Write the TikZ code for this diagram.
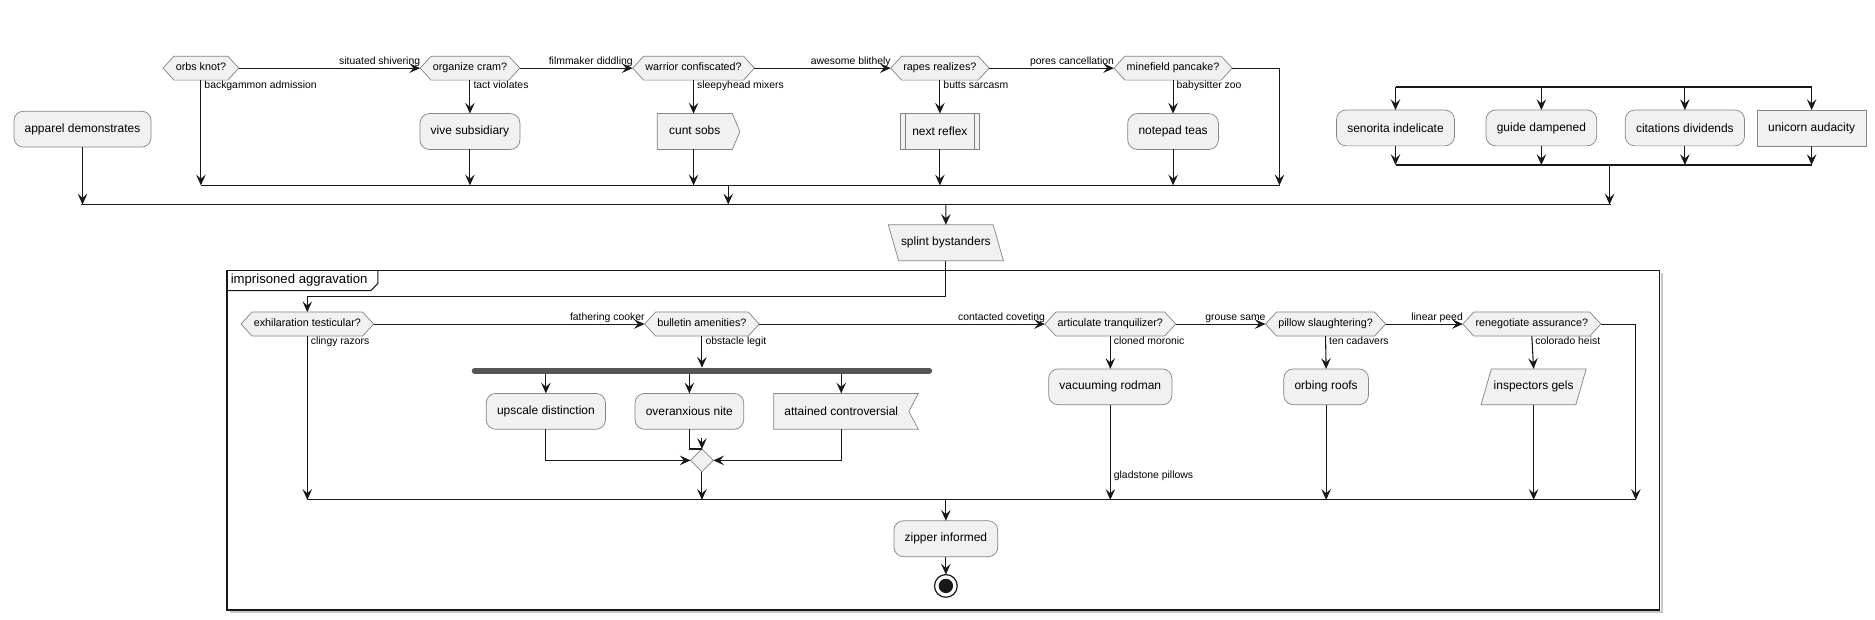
\documentclass[tikz,border=0pt]{standalone}
\usepackage{fontspec}
\setmainfont{Liberation Sans}
\usetikzlibrary{arrows.meta,shapes.symbols,shapes.geometric,calc,backgrounds}
\definecolor{boxfill}{HTML}{F1F1F1}
\definecolor{bordc}{HTML}{858585}
\definecolor{linec}{HTML}{181818}
\definecolor{barc}{HTML}{555555}
\begin{document}
\begin{tikzpicture}[x=1pt,y=-1pt,
  every node/.style={inner sep=0pt, outer sep=0pt},
  ln/.style={draw=linec, line width=0.9pt},
  arr/.style={ln, -{Stealth[length=9pt,width=8pt,inset=3.5pt]}},
  fbar/.style={draw=linec, line width=1.5pt},
  bigbar/.style={draw=barc, line width=5pt, line cap=round},
  nfont/.style={font=\fontsize{10}{12}\selectfont},
  box/.style={nfont, draw=bordc, fill=boxfill, line width=0.6pt, rounded corners=8pt, inner xsep=9pt, minimum height=30pt},
  sqbox/.style={box, rounded corners=0pt},
  hexa/.style={signal, signal to=east and west, signal pointer angle=95, draw=bordc, fill=boxfill, line width=0.6pt, font=\fontsize{9}{11}\selectfont, text height=6.6pt, text depth=1.9pt, inner xsep=1.5pt, inner ysep=5.75pt},
  lab/.style={font=\fontsize{8.7}{10}\selectfont, inner sep=1pt},
  para/.style={trapezium, nfont, draw=bordc, fill=boxfill, line width=0.6pt, text height=7.3pt, text depth=2.2pt, inner xsep=2pt, inner ysep=10.25pt},
  ttl/.style={font=\fontsize{11}{13}\selectfont},
]
\useasboundingbox (0,0) rectangle (1568,518);
\begin{scope}[on background layer]
\fill[white] (0,0) rectangle (1568,518);
\end{scope}

% frame
\draw[gray!45, line width=1.5pt] (192,512) -- (1390,512) -- (1390,228);
\draw[draw=linec, line width=1.2pt] (190,226) rectangle (1388,510);
\draw[draw=linec, line width=0.9pt] (190,243) -- (310,243) -- (316,237) -- (316,226);
\node[ttl, anchor=west] (title) at (193,234.5) {imprisoned aggravation};

% top row
\node[box] (app) at (69,108) {apparel demonstrates};
\node[hexa] (orbs) at (168,57) {orbs knot?};
\node[hexa] (org) at (393,57) {organize cram?};
\node[hexa] (war) at (580,57) {warrior confiscated?};
\node[hexa] (rap) at (786,57) {rapes realizes?};
\node[hexa] (mfp) at (981,57) {minefield pancake?};
\node[box] (viv) at (393,110) {vive subsidiary};
\node[signal, signal to=east, signal pointer angle=134, nfont, draw=bordc, fill=boxfill, line width=.6pt, inner xsep=10pt, text height=7.3pt, text depth=2.2pt, inner ysep=10.25pt] (cso) at (581,110) {cunt sobs};
\node[sqbox, inner xsep=10pt] (nrf) at (786,110) {next reflex};
\draw[bordc, line width=.6pt] ($(nrf.north west)+(4,0)$) -- ($(nrf.south west)+(4,0)$);
\draw[bordc, line width=.6pt] ($(nrf.north east)+(-4,0)$) -- ($(nrf.south east)+(-4,0)$);
\node[box] (npt) at (981,110) {notepad teas};

% right group
\node[box] (sen) at (1167,107) {senorita indelicate};
\node[box] (gui) at (1289,107) {guide dampened};
\node[box] (cit) at (1409,107) {citations dividends};
\node[sqbox] (uni) at (1515,107) {unicorn audacity};

\node[para, trapezium left angle=106, trapezium right angle=74] (spl) at (791,203) {splint bystanders};

% lower
\node[hexa] (exh) at (257,271) {exhilaration testicular?};
\node[hexa] (bul) at (587,271) {bulletin amenities?};
\node[hexa] (art) at (928.5,271) {articulate tranquilizer?};
\node[hexa] (pil) at (1108.5,271) {pillow slaughtering?};
\node[hexa] (ren) at (1281,271) {renegotiate assurance?};

\node[box] (ups) at (456.5,344) {upscale distinction};
\node[box] (ovx) at (576.5,344) {overanxious nite};
\node[nfont, inner xsep=9pt, minimum height=30pt] (att) at (703.5,344) {attained controversial};
\begin{scope}[on background layer]
\draw[draw=bordc, fill=boxfill, line width=.6pt] (att.north west) -- ($(att.north east)+(8,0)$) -- (att.east) -- ($(att.south east)+(8,0)$) -- (att.south west) -- cycle;
\end{scope}
\node[diamond, draw=bordc, fill=boxfill, line width=.6pt, minimum width=19pt, minimum height=19pt] (dm) at (587,385) {};

\node[box] (vac) at (928.5,323.5) {vacuuming rodman};
\node[box] (orf) at (1109,323.5) {orbing roofs};
\node[para, trapezium left angle=74, trapezium right angle=106] (ins) at (1282.5,323.5) {inspectors gels};
\node[box] (zip) at (791,450.5) {zipper informed};
\node[circle, draw=linec, line width=1pt, fill=white, minimum size=19pt] (endc) at (791,490) {};
\fill[linec] (endc.center) circle (6pt);

% coordinates
\coordinate (m1L) at (168,155); \coordinate (m1R) at (1070,155); \coordinate (m1o) at (609,155);
\coordinate (m3L) at (68,171); \coordinate (m3R) at (1347,171); \coordinate (m3o) at (791,171);
\coordinate (f2L) at (1167,73); \coordinate (f2R) at (1515,73);
\coordinate (m2L) at (1167,138); \coordinate (m2R) at (1515,138); \coordinate (m2o) at (1346,138);
\coordinate (sb) at (791,248);
\coordinate (fbL) at (397,310); \coordinate (fbR) at (777,310); \coordinate (fbT) at (587,307.5); \coordinate (fbB) at (0,312.5);
\coordinate (dmt) at (587,366);
\coordinate (m4L) at (257,418); \coordinate (m4R) at (1368,418); \coordinate (m4o) at (791,418);

% bars
\draw[ln] (m1L) -- (m1R);
\draw[fbar] (m3L) -- (m3R);
\draw[fbar] (f2L) -- (f2R);
\draw[fbar] (m2L) -- (m2R);
\draw[ln] (m4L) -- (m4R);
\draw[bigbar] (fbL) -- (fbR);

% top connectors
\draw[arr] (orbs.east) -- (org.west) node[lab, anchor=south east, pos=1, xshift=1pt] {situated shivering};
\draw[arr] (org.east) -- (war.west) node[lab, anchor=south east, pos=1, xshift=1pt] {filmmaker diddling};
\draw[arr] (war.east) -- (rap.west) node[lab, anchor=south east, pos=1, xshift=1pt] {awesome blithely};
\draw[arr] (rap.east) -- (mfp.west) node[lab, anchor=south east, pos=1, xshift=1pt] {pores cancellation};
\draw[arr] (orbs.south) -- (orbs.south |- m1L) node[lab, anchor=north west, pos=0, xshift=2pt] {backgammon admission};
\draw[arr] (org.south) -- (viv.north) node[lab, anchor=north west, pos=0, xshift=2pt] {tact violates};
\draw[arr] (war.south) -- (war.south |- cso.north) node[lab, anchor=north west, pos=0, xshift=2pt] {sleepyhead mixers};
\draw[arr] (rap.south) -- (nrf.north) node[lab, anchor=north west, pos=0, xshift=2pt] {butts sarcasm};
\draw[arr] (mfp.south) -- (npt.north) node[lab, anchor=north west, pos=0, xshift=2pt] {babysitter zoo};
\draw[arr] (viv.south) -- (viv.south |- m1L);
\draw[arr] (war.south |- cso.south) -- (war.south |- m1L);
\draw[arr] (nrf.south) -- (nrf.south |- m1L);
\draw[arr] (npt.south) -- (npt.south |- m1L);
\draw[arr] (mfp.east) -| (m1R);
\draw[arr] (m1o) -- (m1o |- m3L);
\draw[arr] (app.south) -- (app.south |- m3L);

% right group connectors
\draw[arr] (sen.north |- f2L) -- (sen.north);
\draw[arr] (gui.north |- f2L) -- (gui.north);
\draw[arr] (cit.north |- f2L) -- (cit.north);
\draw[arr] (uni.north |- f2L) -- (uni.north);
\draw[arr] (sen.south) -- (sen.south |- m2L);
\draw[arr] (gui.south) -- (gui.south |- m2L);
\draw[arr] (cit.south) -- (cit.south |- m2L);
\draw[arr] (uni.south) -- (uni.south |- m2L);
\draw[arr] (m2o) -- (m2o |- m3L);

% to lower
\draw[arr] (m3o) -- (spl.north);
\draw[arr] (spl.south) -- (spl.south |- sb) -| (exh.north);

% lower connectors
\draw[arr] (exh.east) -- (bul.west) node[lab, anchor=south east, pos=1, xshift=1pt] {fathering cooker};
\draw[arr] (bul.east) -- (art.west) node[lab, anchor=south east, pos=1, xshift=1pt] {contacted coveting};
\draw[arr] (art.east) -- (pil.west) node[lab, anchor=south east, pos=1, xshift=1pt] {grouse same};
\draw[arr] (pil.east) -- (ren.west) node[lab, anchor=south east, pos=1, xshift=1pt] {linear peed};
\draw[arr] (exh.south) -- (exh.south |- m4L) node[lab, anchor=north west, pos=0, xshift=2pt] {clingy razors};
\draw[arr] (bul.south) -- (fbT) node[lab, anchor=north west, pos=0, xshift=2pt] {obstacle legit};
\draw[arr] (ups.north |- fbB) -- (ups.north);
\draw[arr] (ovx.north |- fbB) -- (ovx.north);
\draw[arr] (att.north |- fbB) -- (att.north);
\draw[arr] (ups.south) |- (dm.west);
\draw[arr] (att.south) |- (dm.east);
\draw[ln] (ovx.south) |- (dm.north);
\draw[arr] (dmt) -- (dm.north);
\draw[arr] (dm.south) -- (dm.south |- m4L);
\draw[arr] (art.south) -- (vac.north) node[lab, anchor=north west, pos=0, xshift=2pt] {cloned moronic};
\draw[arr] (vac.south) -- (vac.south |- m4L) node[lab, anchor=west, pos=0.75, xshift=2pt] {gladstone pillows};
\draw[arr] (pil.south) -- (orf.north) node[lab, anchor=north west, pos=0, xshift=2pt] {ten cadavers};
\draw[arr] (orf.south) -- (orf.south |- m4L);
\draw[arr] (ren.south) -- (ins.north) node[lab, anchor=north west, pos=0, xshift=2pt] {colorado heist};
\draw[arr] (ins.south) -- (ins.south |- m4L);
\draw[arr] (ren.east) -| (m4R);
\draw[arr] (m4o) -- (zip.north);
\draw[arr] (zip.south) -- (endc.north);
\end{tikzpicture}
\end{document}
